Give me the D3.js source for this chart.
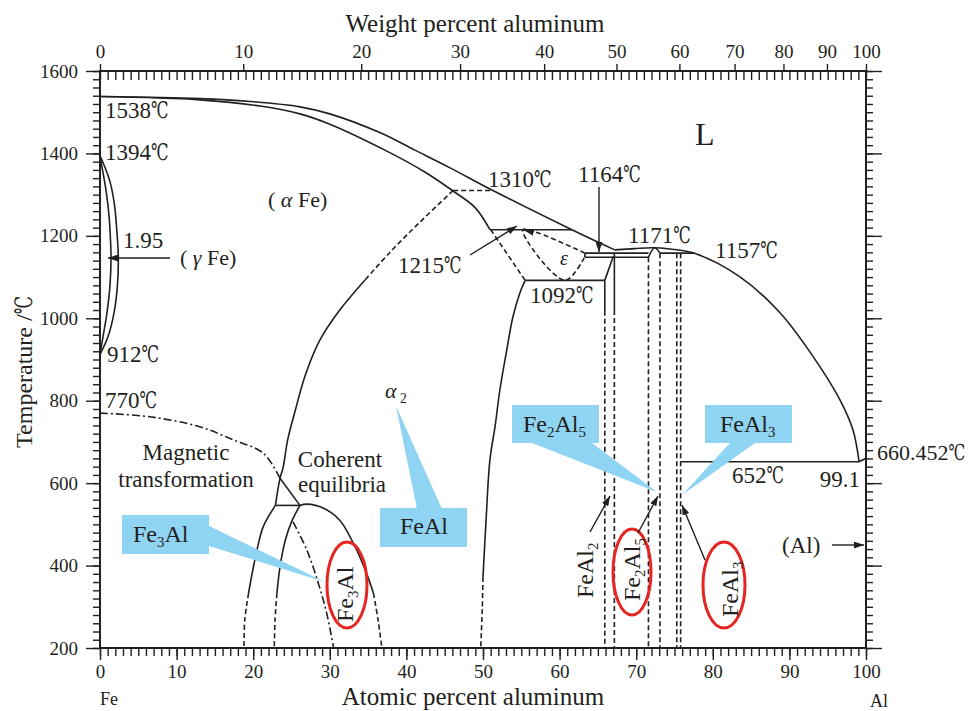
<!DOCTYPE html>
<html>
<head>
<meta charset="UTF-8">
<script src="https://d3js.org/d3.v7.min.js"></script>
<style>
  body { margin: 0; background: #fff; }
  svg text { font-family: "Liberation Serif", "DejaVu Serif", "Noto Sans CJK JP", serif; fill: #231f20; }
</style>
</head>
<body>
<div id="chart"></div>
<script>
// axis values
const atTicks = [0, 10, 20, 30, 40, 50, 60, 70, 80, 90, 100];
const wtTicks = [0, 10, 20, 30, 40, 50, 60, 70, 80, 90, 100];
const tempTicks = [200, 400, 600, 800, 1000, 1200, 1400, 1600];

// phase boundaries, [atomic % Al, temperature C]
const liquidusFe = [[0,1538],[13,1533],[19.6,1526],[26.1,1513],[30,1496],[36.6,1450],[41.1,1408],[45.7,1365],[51.3,1310],[61.6,1215],[67.2,1166]];
const liquidusAl = [[67.2,1166],[69.8,1169],[72.1,1171],[74.4,1168],[77.7,1157],[83.5,1101],[88.8,1013],[93.1,907],[96.6,802],[98.3,729],[99.1,652]];
const liquidusEnd = [[99.1,652],[100,660.45]];
const solidus = [[0,1538],[13,1530],[20.9,1515],[26.1,1496],[30,1471],[37.2,1408],[42.4,1355],[46,1310],[49,1268],[50.9,1215]];
const gammaOuter = [[0,1394],[0.52,1372],[1.31,1331],[1.89,1275],[2.22,1207],[2.39,1149],[2.28,1081],[1.83,1013],[1.04,955],[0,912]];
const gammaInner = [[0,1394],[0.26,1367],[0.78,1311],[1.17,1251],[1.37,1190],[1.44,1149],[1.31,1081],[0.91,1013],[0.39,955],[0,912]];
const orderDashed = [[46.1,1310],[41.8,1234],[37.9,1161],[34.6,1093]];
const orderSolid = [[34.6,1093],[31.3,1020],[28.7,947],[26.8,862],[25.5,777],[24.5,705],[23.9,637],[23.5,612],[22.9,546]];
const magnetic = [[0,770],[6.5,761],[13,737],[17.4,705],[21.3,673],[23.5,612]];
const magneticEnd = [[23.5,612],[26.1,546]];
const tie546 = [[22.9,546],[26.1,546]];
const domeSolid = [[26.1,546],[27,549],[29.2,539],[31.3,510],[33.5,438],[34.8,381],[35.7,333]];
const domeDashed = [[35.7,333],[36.3,268],[36.8,200]];
const leftSolid = [[22.9,546],[21.3,494],[20.5,438],[19.7,365],[19.4,333]];
const leftDashed = [[19.4,333],[18.9,268],[18.8,200]];
const midSolid = [[26.1,546],[25,506],[24.2,462],[23.5,397],[23.1,333]];
const midDashed = [[23.1,333],[22.85,268],[22.75,200]];
const fe3alDashDot = [[25.2,506],[27,438],[28.5,357],[29.6,284],[30.5,200]];
const feAlSolid = [[55.5,1092],[54.8,1061],[53.9,1003],[53.1,923],[52.2,826],[51.6,741],[50.9,656],[50.4,510],[50,372]];
const feAlDashed = [[50,372],[49.9,292],[49.7,200]];
const tie1310 = [[46.1,1310],[51.3,1310]];
const tie1215 = [[50.9,1215],[61.6,1215]];
const tie1092 = [[55.5,1092],[65.9,1092]];
const tie652 = [[75.8,652],[99.1,652]];
const dash1215to1092 = [[51,1215],[55.5,1092]];
const epsilon = [[63.3,1158],[55.2,1215],[60.7,1092],[63.3,1150]];
const rectTop = [[63.3,1158],[71.6,1158]];
const rectBottom = [[63.3,1148],[71.6,1148]];
const rectEnd = [[63.3,1148],[63.3,1158]];
const fe2al5Peak = [[71.6,1148],[72.4,1171],[73.1,1158]];
const tie1157 = [[73.1,1158],[77.6,1158]];
const feAl2Slant = [[65.9,1092],[67.0,1150]];
const feAl2Solid = [[[65.9,1092],[65.9,1018]], [[67.15,1158],[67.15,1020]]];
const compoundDashed = [
  [[65.9,1018],[65.9,200]], [[67.15,1020],[67.15,200]],
  [[71.6,1148],[71.6,200]], [[73.1,1158],[73.1,200]],
  [[75.3,1158],[75.3,200]], [[75.8,1158],[75.8,200]]
];

const ink = "#231f20", blue = "#8fd4f2", red = "#e52521";
const x = d3.scaleLinear().domain([0, 100]).range([100, 866]);
const y = d3.scaleLinear().domain([200, 1600]).range([648, 71]);
const wtToAt = w => { const a = w / 26.98, b = (100 - w) / 55.845; return 100 * a / (a + b); };

const svg = d3.select("#chart").append("svg").attr("width", 976).attr("height", 711);
const defs = svg.append("defs");
defs.append("marker").attr("id", "arr").attr("markerUnits", "userSpaceOnUse")
  .attr("viewBox", "0 0 10 7").attr("refX", 10).attr("refY", 3.5)
  .attr("markerWidth", 10).attr("markerHeight", 7).attr("orient", "auto")
  .append("path").attr("d", "M0,0L10,3.5L0,7z").attr("fill", ink);

// axes
function axis(gen, tr, vals, size, fmt, pad) {
  const g = svg.append("g").attr("transform", tr).attr("color", ink)
    .call(gen.tickValues(vals).tickSize(size).tickPadding(pad || 3).tickFormat(fmt || ""));
  g.select(".domain").remove();
  g.selectAll("line").attr("stroke-width", 1.4);
  g.selectAll("text").attr("font-size", 19).attr("fill", ink);
  return g;
}
axis(d3.axisLeft(y), `translate(${x(0)},0)`, d3.range(200, 1601, 20), 7);
axis(d3.axisLeft(y), `translate(${x(0)},0)`, tempTicks, 14, d => d, 8);
axis(d3.axisRight(y), `translate(${x(100)},0)`, d3.range(200, 1601, 20), 7);
axis(d3.axisRight(y), `translate(${x(100)},0)`, tempTicks, 16);
axis(d3.axisBottom(x), `translate(0,${y(200)})`, d3.range(0, 101, 1), 8);
axis(d3.axisBottom(x), `translate(0,${y(200)})`, atTicks, 12, d => d, 5);
axis(d3.axisTop(x), `translate(0,${y(1600)})`, d3.range(0, 101, 1), -9);
axis(d3.axisTop(x), `translate(0,${y(1600)})`, wtTicks.map(wtToAt), 7, (d, i) => wtTicks[i], 6);

svg.append("rect").attr("x", x(0)).attr("y", y(1600))
  .attr("width", x(100) - x(0)).attr("height", y(200) - y(1600))
  .attr("fill", "none").attr("stroke", ink).attr("stroke-width", 2);

// phase lines
const line = d3.line().x(d => x(d[0])).y(d => y(d[1])).curve(d3.curveCatmullRom.alpha(0.5));
const styles = { solid: null, dash: "5,3", dashdot: "8,3,2,3" };
function draw(pts, style) {
  svg.append("path").attr("d", line(pts)).attr("fill", "none")
    .attr("stroke", ink).attr("stroke-width", 1.6)
    .attr("stroke-dasharray", styles[style || "solid"]);
}
[liquidusFe, liquidusAl, liquidusEnd, solidus, gammaOuter, gammaInner, orderSolid, magneticEnd,
 tie546, domeSolid, leftSolid, midSolid, feAlSolid, tie1215, tie1092, tie652, rectTop, rectBottom,
 rectEnd, fe2al5Peak, tie1157, feAl2Slant].forEach(p => draw(p));
feAl2Solid.forEach(p => draw(p));
[orderDashed, domeDashed, leftDashed, midDashed, feAlDashed, tie1310, dash1215to1092, epsilon].forEach(p => draw(p, "dash"));
compoundDashed.forEach(p => draw(p, "dash"));
[magnetic, fe3alDashDot].forEach(p => draw(p, "dashdot"));

// callouts
function callout(box, tail) {
  svg.append("polygon").attr("points", tail.map(p => p.join(",")).join(" ")).attr("fill", blue);
  svg.append("rect").attr("x", box[0]).attr("y", box[1]).attr("width", box[2]).attr("height", box[3]).attr("fill", blue);
}
callout([122, 515, 87, 39], [[209, 526], [209, 546], [325, 582]]);
callout([380, 508, 87, 39], [[417, 509], [442, 509], [396, 406]]);
callout([512, 405, 87, 38], [[532, 443], [592, 443], [657, 492]]);
callout([705, 405, 87, 38], [[730, 443], [755, 443], [682, 495]]);

function ellipse(cx, cy, rx, ry) {
  svg.append("ellipse").attr("cx", cx).attr("cy", cy).attr("rx", rx).attr("ry", ry)
    .attr("fill", "none").attr("stroke", red).attr("stroke-width", 3);
}
ellipse(347, 585, 20, 43);
ellipse(632, 572, 19, 43);
ellipse(724, 585, 21, 43);

function arrow(x1, y1, x2, y2) {
  svg.append("line").attr("x1", x1).attr("y1", y1).attr("x2", x2).attr("y2", y2)
    .attr("stroke", ink).attr("stroke-width", 1.4).attr("marker-end", "url(#arr)");
}
arrow(170, 258, 108, 258);
arrow(599, 187, 599, 252);
arrow(470, 255, 517, 226);
arrow(530, 231.5, 524, 230);
arrow(832, 545, 864, 545);
arrow(590, 532, 610, 496);
arrow(638, 533, 658, 496);
arrow(705, 560, 682, 505);

// text; the degree sign is squeezed to the narrow width used in the source
function text(px, py, parts, size, anchor, rot) {
  const t = svg.append("text").attr("font-size", size).attr("text-anchor", anchor || "start");
  if (rot) t.attr("transform", `translate(${px},${py}) rotate(-90)`);
  else t.attr("x", px).attr("y", py);
  if (!Array.isArray(parts)) parts = parts.split(/(℃)/).filter(s => s).map(s => [s, s === "℃" ? "deg" : ""]);
  parts.forEach(p => {
    const s = t.append("tspan").text(p[0]);
    if (p[1] === "i") s.attr("font-style", "italic");
    if (p[1] === "sub") s.attr("font-size", size * 0.62).attr("dy", size * 0.22);
    if (p[1] === "up") s.attr("dy", -size * 0.22);
    if (p[1] === "deg") s.attr("textLength", size * 0.76).attr("lengthAdjust", "spacingAndGlyphs");
  });
  return t;
}
text(475, 32, "Weight percent aluminum", 25, "middle");
text(473, 705, "Atomic percent aluminum", 25, "middle");
text(32, 372, "Temperature /℃", 24, "middle", true);
text(100, 705, "Fe", 18);
text(870, 707, "Al", 18);
text(695, 145, "L", 32);
text(105, 118, "1538℃", 23);
text(105, 160, "1394℃", 23);
text(123, 248, "1.95", 23);
text(180, 265, [["( "], ["γ", "i"], [" Fe)"]], 22);
text(268, 207, [["( "], ["α", "i"], [" Fe)"]], 22);
text(107, 362, "912℃", 23);
text(105, 408, "770℃", 23);
text(186, 460, "Magnetic", 23, "middle");
text(186, 487, "transformation", 23, "middle");
text(340, 467, "Coherent", 23, "middle");
text(342, 492, "equilibria", 23, "middle");
text(385, 398, [["α", "i"], [" 2", "sub"]], 22);
text(488, 187, "1310℃", 23);
text(578, 182, "1164℃", 23);
text(628, 243, "1171℃", 23);
text(715, 258, "1157℃", 23);
text(398, 273, "1215℃", 23);
text(530, 303, "1092℃", 23);
text(560, 265, [["ε", "i"]], 20);
text(877, 460, "660.452℃", 22);
text(732, 483, "652℃", 23);
text(860, 487, "99.1", 23, "end");
text(782, 553, "(Al)", 23);
text(133, 542, [["Fe"], ["3", "sub"], ["Al", "up"]], 24);
text(400, 534, "FeAl", 24);
text(523, 432, [["Fe"], ["2", "sub"], ["Al", "up"], ["5", "sub"]], 24);
text(720, 432, [["FeAl"], ["3", "sub"]], 24);
text(353, 622, [["Fe"], ["3", "sub"], ["Al", "up"]], 24, "start", true);
text(593, 598, [["FeAl"], ["2", "sub"]], 24, "start", true);
text(640, 601, [["Fe"], ["2", "sub"], ["Al", "up"], ["5", "sub"]], 24, "start", true);
text(738, 617, [["FeAl"], ["3", "sub"]], 24, "start", true);
</script>
</body>
</html>
